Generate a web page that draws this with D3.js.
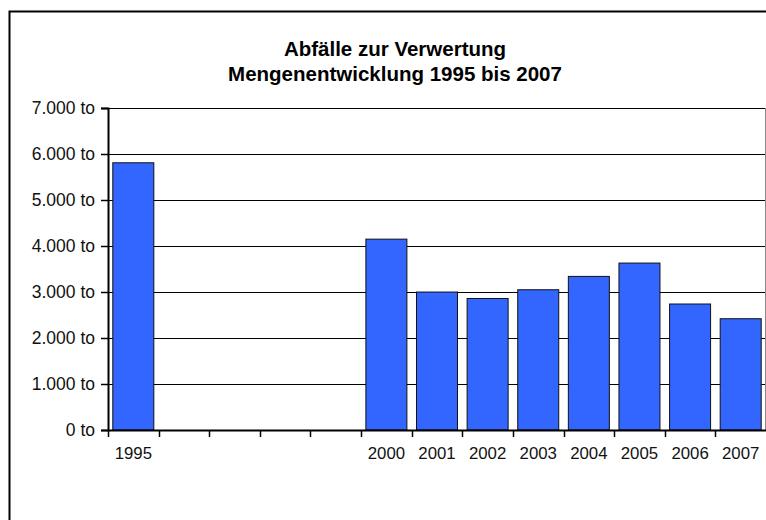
<!DOCTYPE html>
<html>
<head>
<meta charset="utf-8">
<script src="https://cdn.jsdelivr.net/npm/d3@7"></script>
<style>
	body { margin: 0; background: #fff; }
	svg { display: block; font-family: 'Liberation Sans', Arial, sans-serif; }
</style>
</head>
<body>
<svg id="chart" width="766" height="520"></svg>
<script>
// Jahre (1996-1999 ohne Werte)
const years = ['1995', '1996', '1997', '1998', '1999', '2000', '2001', '2002', '2003', '2004', '2005', '2006', '2007']
const tonnes = [5820, null, null, null, null, 4160, 3010, 2870, 3060, 3350, 3640, 2750, 2430]
const yTicks = [0, 1000, 2000, 3000, 4000, 5000, 6000, 7000]
const titleLines = ['Abfälle zur Verwertung', 'Mengenentwicklung 1995 bis 2007']

const svg = d3.select('#chart')
const plot = { left: 108, right: 766, top: 108, bottom: 430 }

// Rahmen um das ganze Diagramm (rechts/unten abgeschnitten)
svg.append('rect')
	.attr('x', 9.5).attr('y', 11.5)
	.attr('width', 770).attr('height', 520)
	.attr('fill', '#fff')
	.attr('stroke', '#000')
	.attr('stroke-width', 2)

svg.append('g')
	.selectAll('text')
	.data(titleLines)
	.join('text')
	.attr('x', 395)
	.attr('y', (d, i) => 56 + i * 24.5)
	.attr('text-anchor', 'middle')
	.attr('font-size', 20.5)
	.attr('font-weight', 'bold')
	.text(d => d)

let x = d3.scaleBand()
	.domain(years)
	.range([plot.left, plot.right])
	.paddingInner(0.17)
	.paddingOuter(0.085)
let xTick = d3.scaleBand().domain(years).range([plot.left, plot.right])
let y = d3.scaleLinear()
	.domain([0, 7000])
	.range([plot.bottom, plot.top])

// Gitterlinien
svg.append('g')
	.selectAll('line')
	.data(yTicks.slice(1))
	.join('line')
	.attr('x1', plot.left).attr('x2', plot.right)
	.attr('y1', d => Math.round(y(d)) + 0.5).attr('y2', d => Math.round(y(d)) + 0.5)
	.attr('stroke', '#000')
	.attr('stroke-width', 1)

// rechter Rand der Zeichenfläche
svg.append('line')
	.attr('x1', plot.right - 0.5).attr('x2', plot.right - 0.5)
	.attr('y1', plot.top).attr('y2', plot.bottom)
	.attr('stroke', '#888')

svg.append('g')
	.selectAll('rect')
	.data(years.map((d, i) => ({ year: d, value: tonnes[i] })).filter(d => d.value != null))
	.join('rect')
	.attr('x', d => x(d.year) + 0.5)
	.attr('y', d => y(d.value) + 0.5)
	.attr('width', x.bandwidth() - 1)
	.attr('height', d => plot.bottom - y(d.value) - 0.5)
	.attr('fill', '#3366ff')
	.attr('stroke', '#111')
	.attr('stroke-width', 1)

// y-Achse
let yAxis = svg.append('g')
	.attr('transform', `translate(${plot.left},0)`)
	.call(d3.axisLeft(y).tickValues(yTicks).tickSize(7).tickPadding(6)
		.tickFormat(d => d3.format(',')(d).replace(/,/g, '.') + ' to'))
yAxis.select('.domain').attr('stroke', '#000').attr('stroke-width', 2)
yAxis.selectAll('.tick line').attr('stroke-width', 1.5)
yAxis.attr('font-size', 17.5).attr('font-family', null)
yAxis.selectAll('text').attr('fill', '#111')

// x-Achse
let xAxis = svg.append('g')
	.attr('transform', `translate(0,${plot.bottom})`)
	.call(d3.axisBottom(xTick).tickSize(0).tickPadding(17))
xAxis.select('.domain').attr('stroke', '#000').attr('stroke-width', 2)
xAxis.attr('font-size', 16.8).attr('font-family', null)
xAxis.selectAll('text').attr('fill', '#111')
	.text(d => tonnes[years.indexOf(d)] == null ? '' : d)
xAxis.append('g')
	.selectAll('line')
	.data(years)
	.join('line')
	.attr('x1', d => Math.round(xTick(d)) + 0.5).attr('x2', d => Math.round(xTick(d)) + 0.5)
	.attr('y1', 0).attr('y2', 7)
	.attr('stroke', '#000')
	.attr('stroke-width', 1.5)
</script>
</body>
</html>
